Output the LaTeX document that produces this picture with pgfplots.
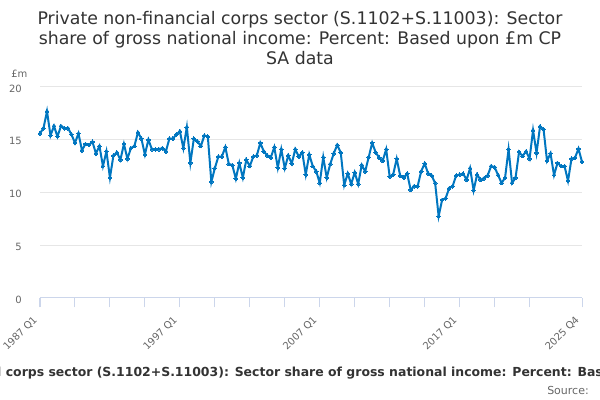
\documentclass[border=0pt]{standalone}
\usepackage{pgfplots}
\usepackage{pgfplotstable}
\pgfplotsset{compat=1.18}
\usepackage{fontspec}
\setmainfont{DejaVu Sans}
\definecolor{lineblue}{RGB}{0,118,192}
\definecolor{axisblue}{RGB}{204,214,235}
\definecolor{gridgrey}{RGB}{230,230,230}
\definecolor{labgrey}{RGB}{102,102,102}
\definecolor{titlegrey}{RGB}{51,51,51}
\pgfplotstableread{
v
15.6
16.1
17.7
15.4
16.3
15.3
16.3
16.1
16.1
15.5
14.7
15.6
14.0
14.6
14.5
14.8
13.7
14.4
12.5
13.9
11.4
13.5
13.8
13.1
14.6
13.2
14.2
14.4
15.7
15.1
13.6
15.0
14.1
14.1
14.1
14.2
13.9
15.1
15.1
15.5
15.8
14.2
16.2
12.8
15.1
14.85
14.4
15.4
15.3
11.0
12.3
13.4
13.4
14.3
12.7
12.6
11.3
12.8
11.4
13.1
12.5
13.4
13.5
14.7
13.9
13.5
13.3
14.3
12.35
14.1
12.3
13.5
12.75
14.1
13.4
13.8
11.7
13.6
12.5
12.0
10.9
13.35
11.4
12.7
13.7
14.5
13.8
10.7
11.8
10.8
11.9
10.8
12.6
12.0
13.35
14.7
13.8
13.3
13.0
14.1
11.5
11.7
13.2
11.6
11.4
11.8
10.25
10.6
10.6
12.0
12.75
11.8
11.6
10.9
7.75
9.3
9.45
10.4
10.6
11.6
11.7
11.8
11.2
12.3
10.2
11.7
11.2
11.35
11.6
12.5
12.4
11.65
10.9
11.4
14.1
10.9
11.4
13.85
13.45
13.9
13.2
15.9
13.75
16.25
16.0
13.0
13.7
11.65
12.8
12.5
12.5
11.1
13.2
13.3
14.15
12.9
}\datatable
\begin{document}
\begin{tikzpicture}
\path[use as bounding box] (0pt,0pt) rectangle (450pt,300pt);
\begin{axis}[
  at={(30pt,76.5pt)}, anchor=south west,
  scale only axis, width=406.5pt, height=158.25pt,
  xmin=0, xmax=155, ymin=0, ymax=20,
  axis x line*=bottom, axis y line*=left,
  x axis line style={draw=axisblue, line width=0.75pt, -},
  y axis line style={draw=none},
  ytick={0,5,10,15,20},
  ymajorgrids, grid style={draw=gridgrey, line width=0.75pt},
  ytick style={draw=none},
  xtick={0,40,80,120,155},
  xticklabels={1987 Q1,1997 Q1,2007 Q1,2017 Q1,2025 Q4},
  minor xtick={10,20,30,50,60,70,90,100,110,130,140},
  tick align=outside, major tick length=7pt, minor tick length=7pt,
  xtick style={draw=axisblue, line width=0.75pt},
  every minor tick/.append style={draw=axisblue, line width=0.75pt},
  /pgf/number format/assume math mode=true,
  yticklabel style={font=\fontsize{7.5}{9}\selectfont, text=labgrey, anchor=east, inner sep=0pt, xshift=-6.5pt, yshift=-1.2pt},
  xticklabel style={font=\fontsize{7.5}{9}\selectfont, text=labgrey, rotate=45, anchor=east, inner sep=0pt, xshift=-8pt, yshift=-3.5pt},
  clip=false,
]
\addplot[color=lineblue, line width=1.5pt, mark=*, mark size=1.4pt, mark options={fill=lineblue, draw=lineblue, line width=0pt}] table[x expr=\coordindex, y=v] {\datatable};
\end{axis}
\node[anchor=base, text=titlegrey, font=\fontsize{13}{15}\selectfont] at (225pt,281.25pt) {Private non-financial corps sector (S.1102+S.11003): Sector};
\node[anchor=base, text=titlegrey, font=\fontsize{13}{15}\selectfont] at (225pt,266.25pt) {share of gross national income: Percent: Based upon £m CP};
\node[anchor=base, text=titlegrey, font=\fontsize{13}{15}\selectfont] at (225pt,251.25pt) {SA data};
\node[anchor=base west, text=labgrey, inner sep=0pt, font=\fontsize{7.5}{9}\selectfont] at (8.25pt,241.5pt) {£m};
\node[anchor=base, text=titlegrey, inner sep=0pt, font=\bfseries\fontsize{9.34}{11}\selectfont] at (233.55pt,17.25pt) {Private non-financial corps sector (S.1102+S.11003): Sector share of gross national income: Percent: Based upon £m CP SA data};
\node[anchor=base east, text=labgrey, inner sep=0pt, font=\fontsize{8.25}{10}\selectfont] at (441.75pt,4.5pt) {Source:};
\end{tikzpicture}
\end{document}
